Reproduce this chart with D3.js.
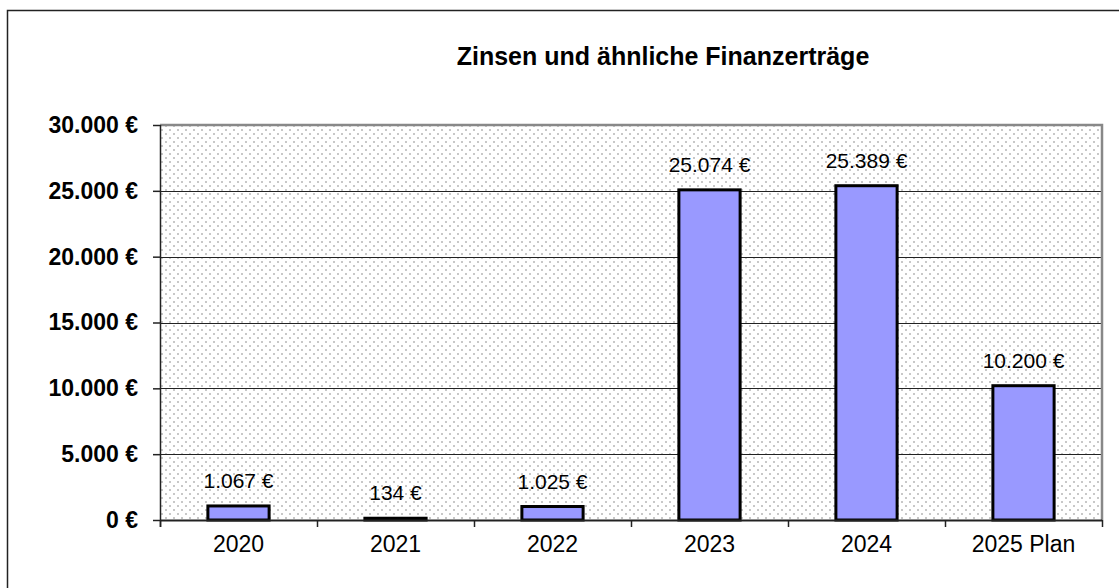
<!DOCTYPE html>
<html>
<head>
<meta charset="utf-8">
<script src="https://cdn.jsdelivr.net/npm/d3@7"></script>
<style>
  body { margin: 0; background: #fff; }
  svg { display: block; font-family: "Liberation Sans", Arial, sans-serif; }
</style>
</head>
<body>
<script>
// chart data
const years = ["2020", "2021", "2022", "2023", "2024", "2025 Plan"];
const values = [1067, 134, 1025, 25074, 25389, 10200];
const yTicks = [0, 5000, 10000, 15000, 20000, 25000, 30000];
const title = "Zinsen und ähnliche Finanzerträge";

const W = 1119, H = 588;
const plot = {left: 160, right: 1102, top: 125, bottom: 520};

// german number format: 25.074 €
const de = d3.formatLocale({decimal: ",", thousands: ".", grouping: [3], currency: ["", " €"]});
const fmt = v => de.format(",.0f")(v) + " €";

const svg = d3.select("body").append("svg")
    .attr("width", W).attr("height", H);

// dotted background pattern
const pat = svg.append("defs").append("pattern")
    .attr("id", "dots").attr("width", 8).attr("height", 8)
    .attr("patternUnits", "userSpaceOnUse");
pat.append("rect").attr("width", 8).attr("height", 8).attr("fill", "#fff");
pat.append("rect").attr("x", 1).attr("y", 1).attr("width", 2).attr("height", 2).attr("fill", "#c8c8c8");
pat.append("rect").attr("x", 5).attr("y", 5).attr("width", 2).attr("height", 2).attr("fill", "#c8c8c8");

// outer frame
svg.append("rect")
    .attr("x", 7.5).attr("y", 10.5).attr("width", W + 10).attr("height", H + 10)
    .attr("fill", "none").attr("stroke", "#222").attr("stroke-width", 1.5);

const x = d3.scaleBand().domain(years).range([plot.left, plot.right]).padding(0);
const y = d3.scaleLinear().domain([0, 30000]).range([plot.bottom, plot.top]);

// plot area
svg.append("rect")
    .attr("x", plot.left).attr("y", plot.top)
    .attr("width", plot.right - plot.left).attr("height", plot.bottom - plot.top)
    .attr("fill", "url(#dots)");

// gridlines
svg.append("g").selectAll("line")
    .data(yTicks.filter(d => d > 0 && d < 30000))
    .enter().append("line")
    .attr("x1", plot.left).attr("x2", plot.right)
    .attr("y1", d => Math.round(y(d)) + 0.5).attr("y2", d => Math.round(y(d)) + 0.5)
    .attr("stroke", "#222").attr("stroke-width", 1);

// plot border (top and right grey)
svg.append("path")
    .attr("d", `M${plot.left},${plot.top} H${plot.right} V${plot.bottom}`)
    .attr("fill", "none").attr("stroke", "#888").attr("stroke-width", 2.5);

// bars
const barW = x.bandwidth() * 0.39;
svg.append("g").selectAll("rect")
    .data(values)
    .enter().append("rect")
    .attr("x", (d, i) => x(years[i]) + (x.bandwidth() - barW) / 2)
    .attr("y", d => y(d))
    .attr("width", barW)
    .attr("height", d => y(0) - y(d))
    .attr("fill", "#9999ff")
    .attr("stroke", "#000").attr("stroke-width", 3);

// value labels
svg.append("g").selectAll("text")
    .data(values)
    .enter().append("text")
    .attr("x", (d, i) => x(years[i]) + x.bandwidth() / 2)
    .attr("y", d => y(d) - 18)
    .attr("text-anchor", "middle")
    .attr("font-size", 21)
    .attr("fill", "#000")
    .text(d => fmt(d));

// y axis
const yAxis = svg.append("g")
    .attr("transform", `translate(${plot.left},0)`)
    .call(d3.axisLeft(y).tickValues(yTicks).tickSize(7).tickPadding(15).tickFormat(fmt));
yAxis.select(".domain").attr("stroke", "#222").attr("stroke-width", 1.5)
    .attr("d", `M0.5,${plot.top}V${plot.bottom + 7}`);
yAxis.selectAll(".tick line").attr("stroke", "#222").attr("stroke-width", 1.5);
yAxis.selectAll(".tick text")
    .attr("font-family", "Liberation Sans, Arial, sans-serif")
    .attr("font-size", 23).attr("font-weight", "bold").attr("fill", "#000");

// x axis
const xAxis = svg.append("g")
    .attr("transform", `translate(0,${plot.bottom})`)
    .call(d3.axisBottom(x).tickSize(0).tickPadding(16));
xAxis.select(".domain").attr("stroke", "#222").attr("stroke-width", 2)
    .attr("d", `M${plot.left},0.5H${plot.right}`);
xAxis.selectAll(".tick text")
    .attr("font-family", "Liberation Sans, Arial, sans-serif")
    .attr("font-size", 23).attr("fill", "#000");
// tick marks between categories
xAxis.append("g").selectAll("line")
    .data(years.concat(["end"]))
    .enter().append("line")
    .attr("x1", (d, i) => i < years.length ? x(d) + 0.5 : plot.right + 0.5)
    .attr("x2", (d, i) => i < years.length ? x(d) + 0.5 : plot.right + 0.5)
    .attr("y1", 0).attr("y2", 7)
    .attr("stroke", "#222").attr("stroke-width", 1.5);

// title
svg.append("text")
    .attr("x", 663).attr("y", 65)
    .attr("text-anchor", "middle")
    .attr("font-size", 25).attr("font-weight", "bold")
    .attr("fill", "#000")
    .text(title);
</script>
</body>
</html>
